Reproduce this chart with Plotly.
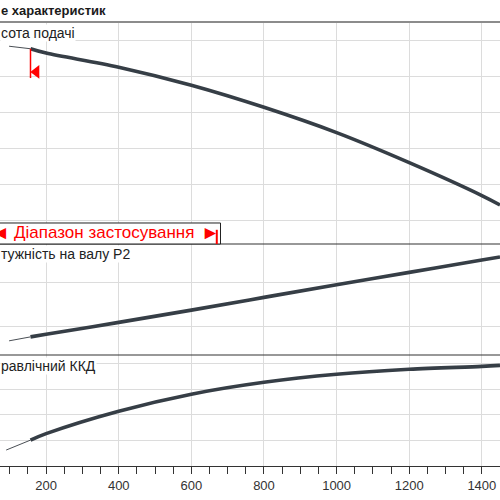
import plotly.graph_objects as go
from plotly.subplots import make_subplots

# flow Q (x) and read-off values for each curve
head_q = [98, 157, 200, 400, 600, 800, 1000, 1200, 1400, 1450]
head_h = [58.3, 57.6, 56.4, 52.5, 47.5, 41.4, 34.4, 26.1, 17.0, 14.4]

power_q = [98, 157, 200, 400, 600, 800, 1000, 1200, 1400, 1450]
power_p = [6.7, 7.6, 8.2, 10.9, 13.7, 16.6, 19.5, 22.3, 25.1, 25.8]

eff_q = [90, 157, 200, 400, 600, 800, 1000, 1200, 1400, 1450]
eff_e = [12.5, 20.3, 25.4, 43.0, 56.3, 65.6, 71.9, 75.8, 78.1, 78.9]

range_start = 157
range_end = 670

x_ticks = [200, 400, 600, 800, 1000, 1200, 1400]

CURVE = "#363e46"
GRID = "#dcdcdc"
FONT = "Arial, Liberation Sans, sans-serif"

fig = make_subplots(rows=3, cols=1, shared_xaxes=True, vertical_spacing=0,
                    row_heights=[0.5, 0.25, 0.25])


def add_curve(q, v, row):
    # thin extension below the applicable range, thick inside it
    fig.add_trace(go.Scatter(x=q[:2], y=v[:2], mode="lines", hoverinfo="skip",
                             line=dict(color="#4a4f55", width=1), showlegend=False),
                  row=row, col=1)
    fig.add_trace(go.Scatter(x=q[1:], y=v[1:], mode="lines", hoverinfo="skip",
                             line=dict(color=CURVE, width=3.6, shape="spline"),
                             showlegend=False), row=row, col=1)


add_curve(head_q, head_h, 1)
add_curve(power_q, power_p, 2)
add_curve(eff_q, eff_e, 3)

# start of the applicable range on the head curve
fig.add_shape(type="line", x0=range_start, x1=range_start, y0=head_h[1] - 8.1, y1=head_h[1],
              line=dict(color="red", width=1.5), row=1, col=1)
fig.add_trace(go.Scatter(x=[range_start + 16], y=[head_h[1] - 6.4], mode="markers",
                         hoverinfo="skip", showlegend=False,
                         marker=dict(symbol="triangle-left", size=12, color="red")),
              row=1, col=1)

for r in (1, 2, 3):
    fig.update_xaxes(range=[73, 1450], tickvals=x_ticks, showgrid=True, gridcolor=GRID,
                     gridwidth=1, zeroline=False, row=r, col=1)
fig.update_xaxes(ticks="outside", ticklen=7, tickcolor="#333", showline=True,
                 linecolor="#333", linewidth=1,
                 minor=dict(dtick=50, tick0=0, ticks="outside", ticklen=7, tickcolor="#333"),
                 tickfont=dict(family=FONT, size=13, color="#333"), row=3, col=1)

fig.update_yaxes(range=[3.6, 65], dtick=10, tick0=0, row=1, col=1)
fig.update_yaxes(range=[3.47, 28.77], dtick=10, tick0=0, row=2, col=1)
fig.update_yaxes(range=[0, 87], dtick=20, tick0=0, row=3, col=1)
fig.update_yaxes(showticklabels=False, ticks="", showgrid=True, gridcolor=GRID,
                 zeroline=False)

# panel borders
fig.add_shape(type="line", xref="paper", yref="paper", x0=0, x1=1, y0=1, y1=1,
              line=dict(color="#8c8c8c", width=2))
for yy in (0.5, 0.25):
    fig.add_shape(type="line", xref="paper", yref="paper", x0=0, x1=1, y0=yy, y1=yy,
                  line=dict(color="#333", width=1.2))

# applicable range box
fig.add_shape(type="rect", xref="paper", yref="paper", x0=-0.01, x1=0.441,
              y0=0.5, y1=0.5473, fillcolor="white", line=dict(color="#222", width=1),
              layer="above")
fig.add_shape(type="line", xref="x", yref="paper", x0=range_end, x1=range_end,
              y0=0.5, y1=0.532, line=dict(color="red", width=2), layer="above")

ann = [
    dict(text="<b>е характеристик</b>", x=0, y=1.027, yanchor="middle",
         font=dict(size=13, color="#1a1a1a")),
    dict(text="сота подачі", x=0, y=1.0, yanchor="top", yshift=-2,
         bgcolor="white", font=dict(size=14, color="#222")),
    dict(text="тужність на валу P2", x=0, y=0.5, yanchor="top", yshift=-1,
         bgcolor="white", font=dict(size=14, color="#222")),
    dict(text="равлічний ККД", x=0, y=0.25, yanchor="top", yshift=-2,
         bgcolor="white", font=dict(size=14, color="#222")),
    dict(text="◄", x=0.022, y=0.5248, yanchor="middle", xanchor="right",
         font=dict(size=19, color="red")),
    dict(text="Діапазон застосування", x=0.026, y=0.5248, yanchor="middle",
         font=dict(size=17, color="red")),
    dict(text="►", x=0.400, y=0.5248, yanchor="middle",
         font=dict(size=19, color="red")),
]
for a in ann:
    a.setdefault("xanchor", "left")
    a.update(xref="paper", yref="paper", showarrow=False, borderpad=0)
    a["font"].setdefault("family", FONT)
    fig.add_annotation(**a)

fig.update_layout(width=500, height=500, paper_bgcolor="white", plot_bgcolor="white",
                  margin=dict(l=0, r=0, t=22, b=34), showlegend=False)

fig.write_html("out.html", config={"displayModeBar": False},
               post_script="document.body.style.margin='0';")
